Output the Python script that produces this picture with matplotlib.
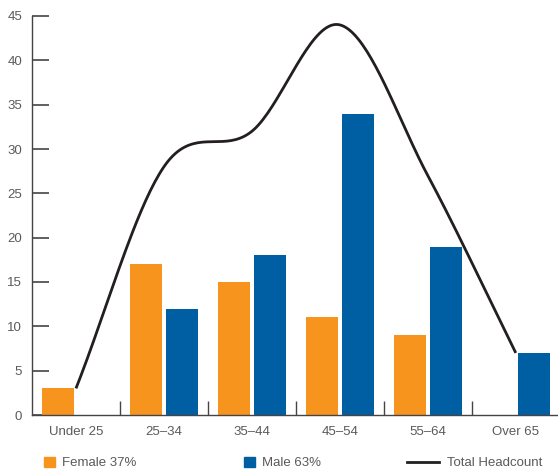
import numpy as np
import matplotlib
matplotlib.use("Agg")
import matplotlib.pyplot as plt
from matplotlib.patches import Patch
from matplotlib.lines import Line2D

categories = ["Under 25", "25–34", "35–44", "45–54", "55–64", "Over 65"]
female = [3, 17, 15, 11, 9, 0]
male = [0, 12, 18, 34, 19, 7]
total = [3, 28, 32, 44, 27, 7]
yticks = [0, 5, 10, 15, 20, 25, 30, 35, 40, 45]

ORANGE = "#F7941E"
BLUE = "#005EA2"
TEXT = "#5a5a5a"
AXIS = "#444444"

plt.rcParams["font.family"] = ["Liberation Sans", "DejaVu Sans"]

fig = plt.figure(figsize=(5.58, 4.73), dpi=100)
ax = fig.add_axes([32 / 558, 58 / 473, 526 / 558, 399 / 473])

x = np.arange(len(categories))
w = 0.364
ax.bar(x - 0.205, female, width=w, color=ORANGE, zorder=2)
ax.bar(x + 0.205, male, width=w, color=BLUE, zorder=2)

# smooth curve (Catmull-Rom) through total headcount points
xs = x.astype(float)
ys = np.array(total, dtype=float)
px, py = [], []
n = len(xs)
for i in range(n - 1):
    y0 = ys[i - 1] if i > 0 else ys[i]
    y3 = ys[i + 2] if i + 2 < n else ys[i + 1]
    m1 = (ys[i + 1] - y0) / (2 if i > 0 else 1)
    m2 = (y3 - ys[i]) / (2 if i + 2 < n else 1)
    t = np.linspace(0, 1, 40)
    h00 = 2 * t**3 - 3 * t**2 + 1
    h10 = t**3 - 2 * t**2 + t
    h01 = -2 * t**3 + 3 * t**2
    h11 = t**3 - t**2
    px.extend(xs[i] + t)
    py.extend(h00 * ys[i] + h10 * m1 + h01 * ys[i + 1] + h11 * m2)
ax.plot(px, py, color="#231F20", lw=2.0, zorder=3, solid_capstyle="butt")

ax.set_xlim(-0.5, 5.48)
ax.set_ylim(0, 45)
ax.set_yticks(yticks)
ax.set_xticks(x)
ax.set_xticklabels(categories)
ax.set_xticks(np.arange(0.5, 5.0, 1.0), minor=True)

for s in ["top", "right"]:
    ax.spines[s].set_visible(False)
for s in ["left", "bottom"]:
    ax.spines[s].set_color(AXIS)
    ax.spines[s].set_linewidth(1.0)

ax.tick_params(axis="y", direction="in", length=12, width=1.2, color=AXIS,
               labelcolor=TEXT, labelsize=9.5, pad=7)
ax.tick_params(axis="x", which="major", length=0, labelcolor=TEXT,
               labelsize=9.5, pad=8)
ax.tick_params(axis="x", which="minor", direction="in", length=10,
               width=1.0, color=AXIS)

leg_kw = dict(frameon=False, fontsize=9.5, labelcolor=TEXT,
              handlelength=0.8, handleheight=0.8, handletextpad=0.6,
              borderpad=0, borderaxespad=0)
l1 = fig.legend(handles=[Patch(color=ORANGE)], labels=["Female 37%"],
                loc="center left", bbox_to_anchor=(44 / 558, 10 / 473), **leg_kw)
l2 = fig.legend(handles=[Patch(color=BLUE)], labels=["Male 63%"],
                loc="center left", bbox_to_anchor=(244 / 558, 10 / 473), **leg_kw)
leg_kw3 = dict(leg_kw)
leg_kw3["handlelength"] = 2.4
l3 = fig.legend(handles=[Line2D([], [], color="#231F20", lw=2.0)],
                labels=["Total Headcount"], loc="center left",
                bbox_to_anchor=(407 / 558, 10 / 473), **leg_kw3)

fig.savefig("out.png", dpi=100)
